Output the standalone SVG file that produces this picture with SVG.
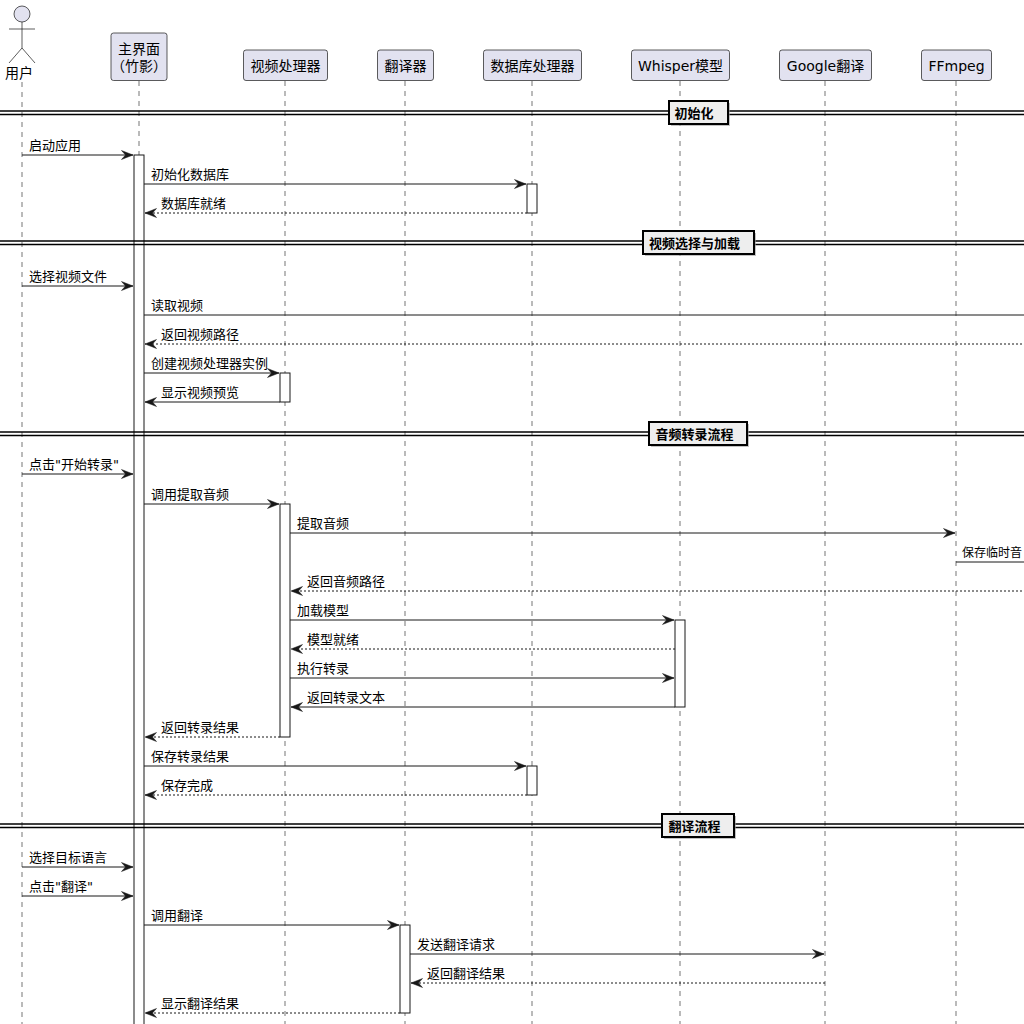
<svg xmlns="http://www.w3.org/2000/svg" width="1024" height="1024" viewBox="0 0 1024 1024">
<defs>
<style>
text{font-family:"DejaVu Sans","Noto Sans CJK SC",sans-serif;fill:#000}
.pt{font-size:14px;text-anchor:middle}
.msg{font-size:13px}
.sep{font-size:13px;font-weight:bold;text-anchor:middle}
.box{fill:#E2E2F0;stroke:#181818;stroke-width:0.7}
.life{stroke:#181818;stroke-width:0.6;stroke-dasharray:5,5;fill:none}
.act{fill:#fff;stroke:#181818;stroke-width:1}
.m{stroke:#181818;stroke-width:1;fill:none}
.r{stroke:#181818;stroke-width:1;fill:none;stroke-dasharray:2,2}
.sl{stroke:#000;stroke-width:1.5;fill:none}
.sb{fill:#EEEEEE;stroke:#000;stroke-width:2}
.sh{fill:#999;opacity:0.6}
</style>
<marker id="ah" viewBox="0 0 12 10" refX="12" refY="5" markerWidth="12" markerHeight="10" markerUnits="userSpaceOnUse" orient="auto">
<polygon points="0.5,0.5 12,5 0.5,9.5 4.5,5" fill="#181818" stroke="#181818" stroke-width="0.5" stroke-linejoin="miter"/>
</marker>
</defs>
<rect width="1024" height="1024" fill="#fff"/>

<g id="lifelines">
<line class="life" x1="22" y1="82" x2="22" y2="1024"/>
<line class="life" x1="139" y1="81" x2="139" y2="1024"/>
<line class="life" x1="285" y1="81" x2="285" y2="1024"/>
<line class="life" x1="405" y1="81" x2="405" y2="1024"/>
<line class="life" x1="532" y1="81" x2="532" y2="1024"/>
<line class="life" x1="680" y1="81" x2="680" y2="1024"/>
<line class="life" x1="825" y1="81" x2="825" y2="1024"/>
<line class="life" x1="956" y1="81" x2="956" y2="1024"/>
</g>

<g id="user">
<circle cx="22" cy="14" r="8" fill="#E2E2F0" stroke="#181818" stroke-width="0.7"/>
<line x1="22" y1="22" x2="22" y2="48" stroke="#181818" stroke-width="0.7"/>
<line x1="9" y1="29" x2="35" y2="29" stroke="#181818" stroke-width="0.7"/>
<polyline points="9,63 22,48 35,63" fill="none" stroke="#181818" stroke-width="0.7"/>
<text class="pt" x="19" y="78">用户</text>
</g>
<g id="mainui">
<rect class="box" x="111" y="33" width="56" height="47.5" rx="2.5"/>
<text class="pt" x="139" y="54">主界面</text>
<text class="pt" x="139" y="71">（竹影）</text>
</g>
<g id="videoproc">
<rect class="box" x="243.5" y="50" width="84" height="30.5" rx="2.5"/>
<text class="pt" x="285.5" y="71">视频处理器</text>
</g>
<g id="translator">
<rect class="box" x="377.5" y="50" width="56" height="30.5" rx="2.5"/>
<text class="pt" x="405.5" y="71">翻译器</text>
</g>
<g id="dbproc">
<rect class="box" x="483.5" y="50" width="98" height="30.5" rx="2.5"/>
<text class="pt" x="532.5" y="71">数据库处理器</text>
</g>
<g id="whisper">
<rect class="box" x="631.5" y="50" width="98" height="30.5" rx="2.5"/>
<text class="pt" x="680.5" y="71">Whisper模型</text>
</g>
<g id="google">
<rect class="box" x="779.5" y="50" width="92" height="30.5" rx="2.5"/>
<text class="pt" x="825.5" y="71">Google翻译</text>
</g>
<g id="ffmpeg">
<rect class="box" x="921.5" y="50" width="70" height="30.5" rx="2.5"/>
<text class="pt" x="956.5" y="71">FFmpeg</text>
</g>

<g id="activations">
<rect class="act" x="134" y="155" width="10" height="880"/>
<rect class="act" x="527" y="184" width="10" height="29"/>
<rect class="act" x="280" y="373" width="10" height="29"/>
<rect class="act" x="280" y="504" width="10" height="233"/>
<rect class="act" x="675" y="620" width="10" height="87"/>
<rect class="act" x="527" y="766" width="10" height="29"/>
<rect class="act" x="400" y="925" width="10" height="88"/>
</g>

<g id="separators">
<g id="sep1">
<line class="sl" x1="0" y1="111" x2="1024" y2="111"/>
<line class="sl" x1="0" y1="114.5" x2="1024" y2="114.5"/>
<rect class="sh" x="671" y="103" width="59" height="23"/>
<rect class="sb" x="669" y="101" width="59" height="23"/>
<text class="sep" x="694" y="117.5">初始化</text>
</g>
<g id="sep2">
<line class="sl" x1="0" y1="241" x2="1024" y2="241"/>
<line class="sl" x1="0" y1="244.5" x2="1024" y2="244.5"/>
<rect class="sh" x="645" y="233" width="111" height="23"/>
<rect class="sb" x="643" y="231" width="111" height="23"/>
<text class="sep" x="694.5" y="247.5">视频选择与加载</text>
</g>
<g id="sep3">
<line class="sl" x1="0" y1="432" x2="1024" y2="432"/>
<line class="sl" x1="0" y1="435.5" x2="1024" y2="435.5"/>
<rect class="sh" x="651" y="424" width="98" height="23"/>
<rect class="sb" x="649" y="422" width="98" height="23"/>
<text class="sep" x="694.5" y="438.5">音频转录流程</text>
</g>
<g id="sep4">
<line class="sl" x1="0" y1="824" x2="1024" y2="824"/>
<line class="sl" x1="0" y1="827.5" x2="1024" y2="827.5"/>
<rect class="sh" x="664" y="816" width="72" height="23"/>
<rect class="sb" x="662" y="814" width="72" height="23"/>
<text class="sep" x="694.5" y="830.5">翻译流程</text>
</g>
</g>

<g id="connectors">
<line class="m" x1="22" y1="155" x2="133" y2="155" marker-end="url(#ah)"/>
<text class="msg" x="29" y="150">启动应用</text>
<line class="m" x1="144" y1="184" x2="526" y2="184" marker-end="url(#ah)"/>
<text class="msg" x="151" y="179">初始化数据库</text>
<line class="r" x1="527" y1="213" x2="145" y2="213" marker-end="url(#ah)"/>
<text class="msg" x="161" y="208">数据库就绪</text>

<line class="m" x1="22" y1="286" x2="133" y2="286" marker-end="url(#ah)"/>
<text class="msg" x="29" y="281">选择视频文件</text>
<line class="m" x1="144" y1="315" x2="1030" y2="315"/>
<text class="msg" x="151" y="310">读取视频</text>
<line class="r" x1="1030" y1="344" x2="145" y2="344" marker-end="url(#ah)"/>
<text class="msg" x="161" y="339">返回视频路径</text>
<line class="m" x1="144" y1="373" x2="279" y2="373" marker-end="url(#ah)"/>
<text class="msg" x="151" y="368">创建视频处理器实例</text>
<line class="m" x1="280" y1="402" x2="145" y2="402" marker-end="url(#ah)"/>
<text class="msg" x="161" y="397">显示视频预览</text>

<line class="m" x1="22" y1="474" x2="133" y2="474" marker-end="url(#ah)"/>
<text class="msg" x="29" y="469">点击"开始转录"</text>
<line class="m" x1="144" y1="504" x2="279" y2="504" marker-end="url(#ah)"/>
<text class="msg" x="151" y="499">调用提取音频</text>
<line class="m" x1="290" y1="533" x2="955" y2="533" marker-end="url(#ah)"/>
<text class="msg" x="297" y="528">提取音频</text>
<line class="m" x1="956" y1="562" x2="1030" y2="562"/>
<text x="962" y="557" font-size="12">保存临时音</text>
<line class="r" x1="1030" y1="591" x2="291" y2="591" marker-end="url(#ah)"/>
<text class="msg" x="307" y="586">返回音频路径</text>
<line class="m" x1="290" y1="620" x2="674" y2="620" marker-end="url(#ah)"/>
<text class="msg" x="297" y="615">加载模型</text>
<line class="r" x1="675" y1="649" x2="291" y2="649" marker-end="url(#ah)"/>
<text class="msg" x="307" y="644">模型就绪</text>
<line class="m" x1="290" y1="678" x2="674" y2="678" marker-end="url(#ah)"/>
<text class="msg" x="297" y="673">执行转录</text>
<line class="m" x1="675" y1="707" x2="291" y2="707" marker-end="url(#ah)"/>
<text class="msg" x="307" y="702">返回转录文本</text>
<line class="r" x1="280" y1="737" x2="145" y2="737" marker-end="url(#ah)"/>
<text class="msg" x="161" y="732">返回转录结果</text>
<line class="m" x1="144" y1="766" x2="526" y2="766" marker-end="url(#ah)"/>
<text class="msg" x="151" y="761">保存转录结果</text>
<line class="r" x1="527" y1="795" x2="145" y2="795" marker-end="url(#ah)"/>
<text class="msg" x="161" y="790">保存完成</text>

<line class="m" x1="22" y1="867" x2="133" y2="867" marker-end="url(#ah)"/>
<text class="msg" x="29" y="862">选择目标语言</text>
<line class="m" x1="22" y1="896" x2="133" y2="896" marker-end="url(#ah)"/>
<text class="msg" x="29" y="891">点击"翻译"</text>
<line class="m" x1="144" y1="925" x2="399" y2="925" marker-end="url(#ah)"/>
<text class="msg" x="151" y="920">调用翻译</text>
<line class="m" x1="410" y1="954" x2="824" y2="954" marker-end="url(#ah)"/>
<text class="msg" x="417" y="949">发送翻译请求</text>
<line class="r" x1="825" y1="983" x2="411" y2="983" marker-end="url(#ah)"/>
<text class="msg" x="427" y="978">返回翻译结果</text>
<line class="r" x1="400" y1="1013" x2="145" y2="1013" marker-end="url(#ah)"/>
<text class="msg" x="161" y="1008">显示翻译结果</text>
</g>
</svg>
